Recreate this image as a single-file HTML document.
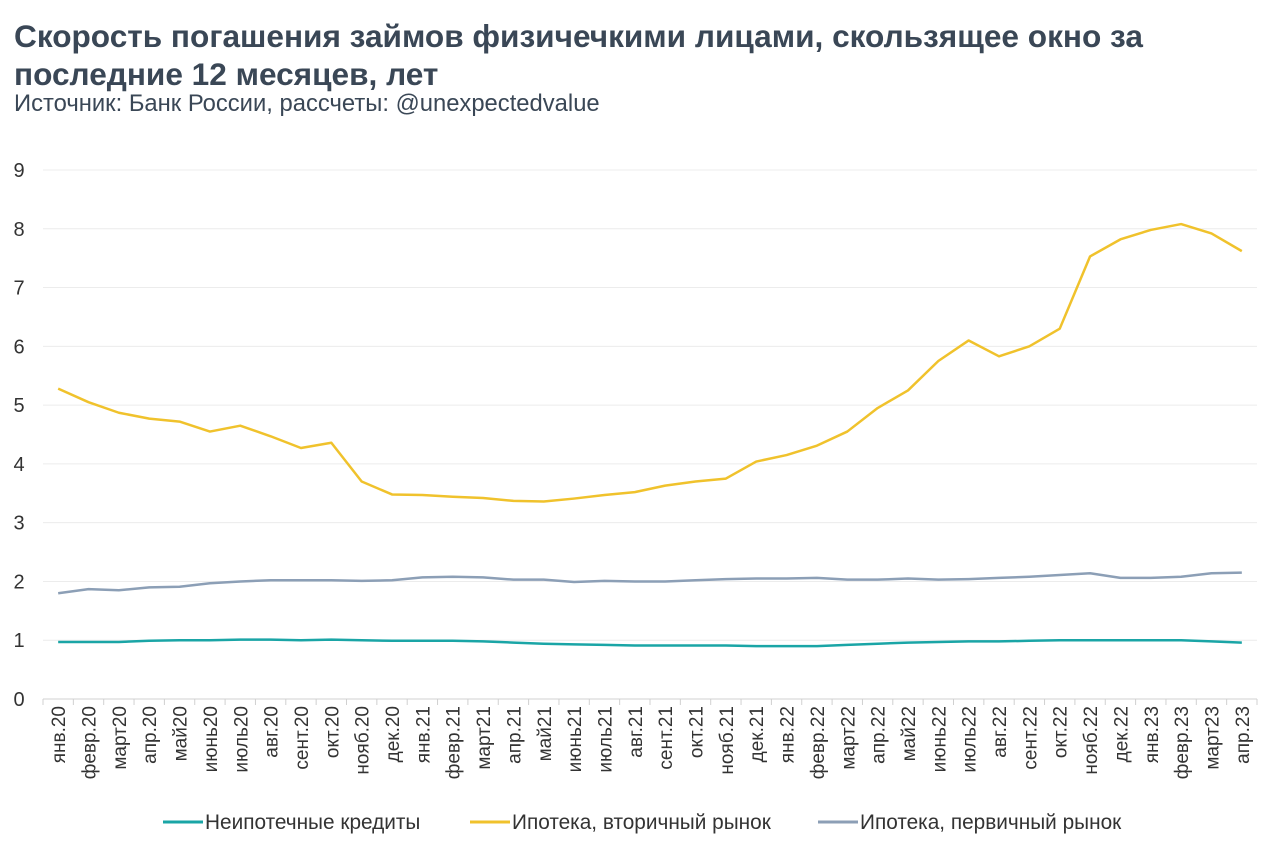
<!DOCTYPE html>
<html><head><meta charset="utf-8">
<style>
body{margin:0;background:#fff;font-family:"Liberation Sans",Arial,sans-serif;}
#wrap{position:relative;width:1280px;height:855px;overflow:hidden;}
h1{position:absolute;left:14px;top:17px;margin:0;font-size:31.6px;line-height:38px;font-weight:bold;color:#3a4756;width:1240px;}
#src{position:absolute;left:14px;top:90px;font-size:23.8px;color:#3a4756;}
</style></head>
<body><div id="wrap">
<h1>Скорость погашения займов физичечкими лицами, скользящее окно за<br>последние 12 месяцев, лет</h1>
<div id="src">Источник: Банк России, рассчеты: @unexpectedvalue</div>
<svg id="chart" width="1280" height="855" style="position:absolute;left:0;top:0"></svg>
</div>
<script>
const categories=["янв.20","февр.20","март20","апр.20","май20","июнь20","июль20","авг.20","сент.20","окт.20","нояб.20","дек.20","янв.21","февр.21","март21","апр.21","май21","июнь21","июль21","авг.21","сент.21","окт.21","нояб.21","дек.21","янв.22","февр.22","март22","апр.22","май22","июнь22","июль22","авг.22","сент.22","окт.22","нояб.22","дек.22","янв.23","февр.23","март23","апр.23"];
const nonMortgage=[0.97,0.97,0.97,0.99,1.0,1.0,1.01,1.01,1.0,1.01,1.0,0.99,0.99,0.99,0.98,0.96,0.94,0.93,0.92,0.91,0.91,0.91,0.91,0.9,0.9,0.9,0.92,0.94,0.96,0.97,0.98,0.98,0.99,1.0,1.0,1.0,1.0,1.0,0.98,0.96];
const secondary=[5.28,5.05,4.87,4.77,4.72,4.55,4.65,4.47,4.27,4.36,3.7,3.48,3.47,3.44,3.42,3.37,3.36,3.41,3.47,3.52,3.63,3.70,3.75,4.04,4.15,4.31,4.55,4.95,5.25,5.75,6.1,5.83,6.0,6.3,7.53,7.82,7.98,8.08,7.92,7.62];
const primary=[1.8,1.87,1.85,1.9,1.91,1.97,2.0,2.02,2.02,2.02,2.01,2.02,2.07,2.08,2.07,2.03,2.03,1.99,2.01,2.0,2.0,2.02,2.04,2.05,2.05,2.06,2.03,2.03,2.05,2.03,2.04,2.06,2.08,2.11,2.14,2.06,2.06,2.08,2.14,2.15];
const yTicks=[0,1,2,3,4,5,6,7,8,9];
const seriesNames=["Неипотечные кредиты","Ипотека, вторичный рынок","Ипотека, первичный рынок"];

const NS="http://www.w3.org/2000/svg",svg=document.getElementById('chart');
const L=43,R=1257,Y0=699,Y9=170;
const step=(R-L)/categories.length;
const x=i=>L+step*(i+0.5);
const y=v=>Y0-(Y0-Y9)*v/9;
function mk(t,a,p){const e=document.createElementNS(NS,t);for(const k in a)e.setAttribute(k,a[k]);(p||svg).appendChild(e);return e;}
yTicks.forEach(v=>{
  const g=mk('line',{x1:L,x2:R,y1:y(v),y2:y(v),stroke:v===0?'#d0d0d0':'#ececec','stroke-width':1});
  
  
  const t=mk('text',{x:19,y:y(v)+7,'font-size':20,fill:'#333','text-anchor':'middle'});
  t.textContent=v;
  
  
});
for(let i=0;i<=categories.length;i++){
  const tk=mk('line',{x1:L+step*i,x2:L+step*i,y1:Y0,y2:Y0+6,stroke:'#d0d0d0'});
  
  
}
categories.forEach((c,i)=>{
  const t=mk('text',{transform:`translate(${x(i)+7},706) rotate(-90)`,'font-size':19,fill:'#333','text-anchor':'end'});
  t.textContent=c;
  
  
});
const colors=['#1aa5a6','#f0c22c','#8c9fb6'];
[nonMortgage,secondary,primary].forEach((arr,s)=>{
  const p=mk('polyline',{points:arr.map((v,i)=>x(i)+','+y(v)).join(' '),fill:'none',stroke:colors[s],'stroke-width':2.5,'stroke-linejoin':'round'});
  
  
});
const lx=[163,470,818];
seriesNames.forEach((n,s)=>{
  const l=mk('line',{x1:lx[s],x2:lx[s]+40,y1:822,y2:822,stroke:colors[s],'stroke-width':3});
  
  
  const t=mk('text',{x:lx[s]+42,y:829,'font-size':20.8,fill:'#333'});
  t.textContent=n;
  
  
});
</script>
</body></html>
